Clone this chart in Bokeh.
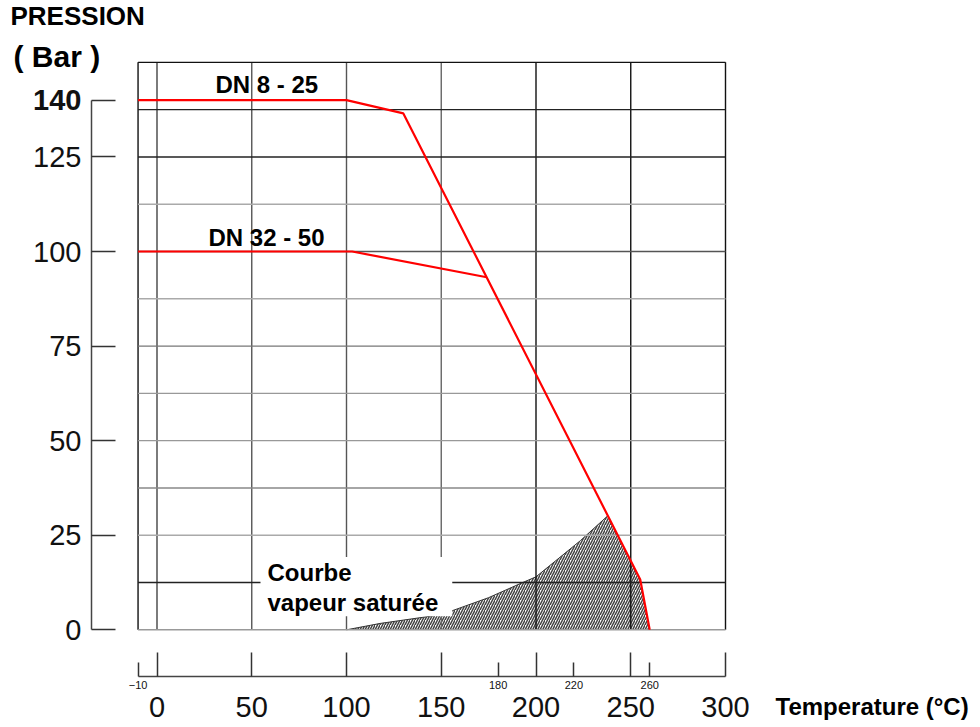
from bokeh.plotting import figure
from bokeh.models import LinearAxis, FixedTicker, Range1d, Label, ColumnDataSource
from bokeh.embed import file_html
from bokeh.resources import INLINE

# ---------------- data ----------------
temp_dn8_25 = [-10, 100, 130, 255, 260]
pres_dn8_25 = [140, 140, 136.5, 13.3, 0]

temp_dn32_50 = [-10, 103, 174]
pres_dn32_50 = [100, 100, 93.2]

sat_temp = [100, 118, 150, 175, 193, 200, 223.5, 238]
sat_pres = [0, 1.7, 4.0, 8.5, 12.5, 14.0, 23.6, 30.2]

x_grid = [-10, 0, 50, 100, 150, 200, 250, 300]
y_grid = [0, 12.5, 25, 37.5, 50, 62.5, 75, 87.5, 100, 112.5, 125, 137.5, 150]

x_major_ticks = [0, 50, 100, 150, 200, 250, 300]
x_minor_ticks = [-10, 180, 220, 260]
y_ticks = [0, 25, 50, 75, 100, 125]
y_top_tick = [140]

# ---------------- styles ----------------
x_grid_colors = ["#111", "#444", "#555", "#555", "#666", "#111", "#111", "#111"]
y_grid_colors = ["#999", "#222", "#aaa", "#888", "#999", "#999", "#777",
                 "#aaa", "#555", "#aaa", "#222", "#222", "#111"]

FONT = "Liberation Sans"
W, H = 980, 727
X0PX, XS = 156.5, 1.895   # pixel of 0 degC, pixels per degC
Y0PX, YS = 629.3, 3.783   # pixel of 0 bar, pixels per bar


def px2x(px):
    return (px - X0PX) / XS


def py2y(py):
    return (Y0PX - py) / YS


p = figure(width=W, height=H,
           x_range=Range1d(px2x(0), px2x(W)), y_range=Range1d(py2y(H), py2y(0)),
           x_axis_type=None, y_axis_type=None,
           toolbar_location=None, output_backend="svg",
           min_border=0, min_border_left=0, min_border_right=0,
           min_border_top=0, min_border_bottom=0,
           outline_line_color=None,
           background_fill_color="white", border_fill_color="white")
p.grid.visible = False

# ---------------- hatched saturated-steam region ----------------
edge_t = [t for t in temp_dn8_25 if t > sat_temp[-1]]
edge_p = [pr for t, pr in zip(temp_dn8_25, pres_dn8_25) if t > sat_temp[-1]]
p.patch(sat_temp + edge_t, sat_pres + edge_p,
        fill_color="white", fill_alpha=1.0,
        hatch_pattern="/", hatch_color="#444", hatch_scale=5, hatch_weight=1.5,
        line_color=None)
p.line(sat_temp, sat_pres, line_color="#333", line_width=1)

# ---------------- grid ----------------
vsrc = ColumnDataSource(dict(x0=x_grid, x1=x_grid,
                             y0=[y_grid[0]] * len(x_grid), y1=[y_grid[-1]] * len(x_grid),
                             c=x_grid_colors))
hsrc = ColumnDataSource(dict(x0=[x_grid[0]] * len(y_grid), x1=[x_grid[-1]] * len(y_grid),
                             y0=y_grid, y1=y_grid, c=y_grid_colors))
p.segment("x0", "y0", "x1", "y1", source=vsrc, line_color="c", line_width=1.4)
p.segment("x0", "y0", "x1", "y1", source=hsrc, line_color="c", line_width=1.4)

# ---------------- pressure / temperature limits ----------------
p.line(temp_dn8_25, pres_dn8_25, line_color="#ff0000", line_width=2.2)
p.line(temp_dn32_50, pres_dn32_50, line_color="#ff0000", line_width=2.2)

# ---------------- axes ----------------
common = dict(minor_tick_line_color=None, major_label_text_font=FONT,
              major_label_text_color="#111")

yax = LinearAxis(ticker=FixedTicker(ticks=y_ticks), fixed_location=px2x(91), bounds=(0, 140),
                 axis_line_color="#444", axis_line_width=1.5,
                 major_tick_line_color="#333", major_tick_line_width=1.5,
                 major_tick_in=24, major_tick_out=0,
                 major_label_text_font_size="29px", major_label_standoff=10, **common)
p.add_layout(yax, "left")

yax2 = LinearAxis(ticker=FixedTicker(ticks=y_top_tick), fixed_location=px2x(91),
                  axis_line_color=None,
                  major_tick_line_color="#333", major_tick_line_width=1.5,
                  major_tick_in=24, major_tick_out=0,
                  major_label_text_font_size="29px", major_label_text_font_style="bold",
                  major_label_standoff=10, **common)
p.add_layout(yax2, "left")

xax = LinearAxis(ticker=FixedTicker(ticks=x_major_ticks), fixed_location=py2y(676), bounds=(-10, 300),
                 axis_line_color="#444", axis_line_width=1.5,
                 major_tick_line_color="#333", major_tick_line_width=1.5,
                 major_tick_in=24, major_tick_out=0,
                 major_label_text_font_size="29px", major_label_standoff=20, **common)
p.add_layout(xax, "below")

xax2 = LinearAxis(ticker=FixedTicker(ticks=x_minor_ticks), fixed_location=py2y(676),
                  axis_line_color=None,
                  major_tick_line_color="#333", major_tick_line_width=1.5,
                  major_tick_in=14, major_tick_out=0,
                  major_label_text_font_size="11px", major_label_standoff=4, **common)
p.add_layout(xax2, "below")


# ---------------- texts ----------------
def label(text, px, cap_top_py, size, **kw):
    """Place a bold text so that its capitals start at pixel row cap_top_py."""
    top = cap_top_py - 0.27 * size
    p.add_layout(Label(x=px2x(px), y=py2y(top), text=text, text_font=FONT,
                       text_font_size=f"{size}px", text_font_style="bold",
                       text_align="left", text_baseline="top",
                       text_color="#000", **kw))


label("PRESSION", 10, 8, 26)
label("( Bar )", 13, 48, 30)
label("DN 8 - 25", 215, 77, 24)
label("DN 32 - 50", 208, 230, 24)
label("Temperature (°C)", 775, 699, 24)
label("Courbe\nvapeur saturée", 260, 565 - 2, 24,
      background_fill_color="white",
      padding=dict(left=7, right=14, top=2, bottom=0), text_line_height=1.12)

open("out.html", "w").write(file_html(p, INLINE))
